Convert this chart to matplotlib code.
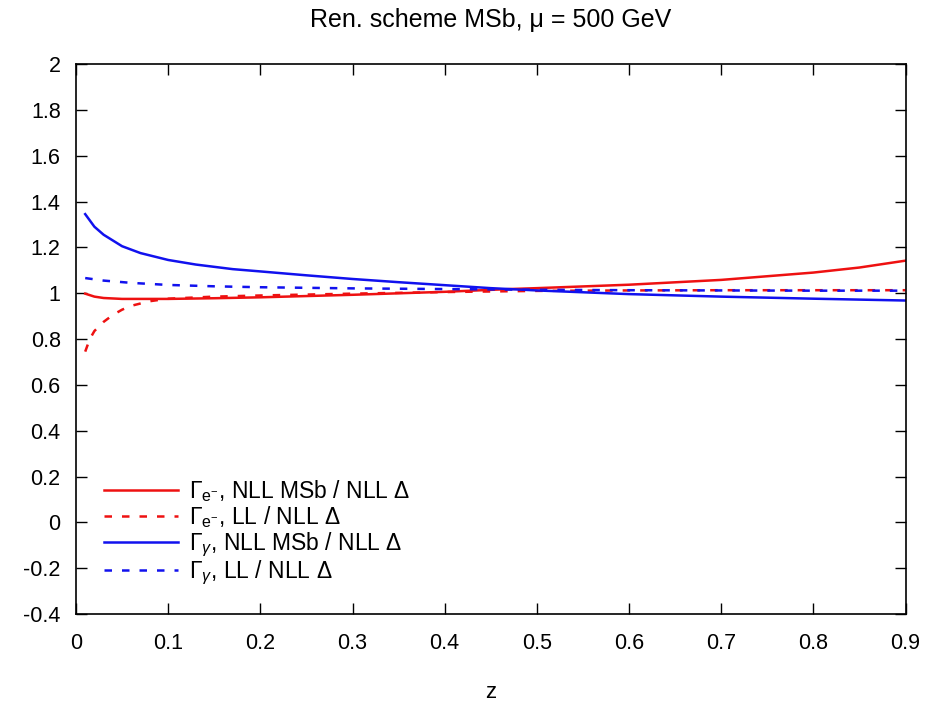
import numpy as np
import matplotlib.pyplot as plt

plt.rcParams['font.family'] = ['Liberation Sans', 'DejaVu Sans']
plt.rcParams['mathtext.fontset'] = 'custom'
plt.rcParams['mathtext.rm'] = 'Liberation Sans'
plt.rcParams['mathtext.it'] = 'Liberation Sans:italic'
plt.rcParams['axes.unicode_minus'] = False

# ratios vs z
z_e_nll = [0.01, 0.02, 0.03, 0.05, 0.1, 0.15, 0.2, 0.3, 0.4, 0.47, 0.5, 0.6, 0.7, 0.8, 0.85, 0.9]
e_nll = [0.998, 0.985, 0.979, 0.975, 0.975, 0.978, 0.982, 0.993, 1.006, 1.018, 1.022, 1.037, 1.058, 1.09, 1.112, 1.142]

z_e_ll = [0.01, 0.015, 0.02, 0.03, 0.04, 0.05, 0.06, 0.08, 0.1, 0.15, 0.2, 0.3, 0.4, 0.5, 0.6, 0.7, 0.8, 0.9]
e_ll = [0.745, 0.80, 0.835, 0.875, 0.905, 0.928, 0.945, 0.965, 0.976, 0.985, 0.99, 0.998, 1.005, 1.01, 1.012, 1.013, 1.013, 1.013]

z_g_nll = [0.01, 0.02, 0.03, 0.05, 0.07, 0.1, 0.13, 0.17, 0.2, 0.25, 0.3, 0.35, 0.4, 0.45, 0.5, 0.6, 0.7, 0.8, 0.9]
g_nll = [1.345, 1.29, 1.255, 1.205, 1.175, 1.145, 1.125, 1.105, 1.095, 1.078, 1.062, 1.048, 1.035, 1.022, 1.012, 0.996, 0.985, 0.976, 0.968]

z_g_ll = [0.01, 0.03, 0.06, 0.1, 0.15, 0.2, 0.3, 0.4, 0.5, 0.6, 0.7, 0.8, 0.9]
g_ll = [1.066, 1.055, 1.045, 1.036, 1.03, 1.026, 1.021, 1.018, 1.015, 1.013, 1.012, 1.011, 1.011]

labels = [r'$\Gamma_{\mathrm{e^{-}}}$, NLL MSb / NLL Δ',
          r'$\Gamma_{\mathrm{e^{-}}}$, LL / NLL Δ',
          r'$\Gamma_{\gamma}$, NLL MSb / NLL Δ',
          r'$\Gamma_{\gamma}$, LL / NLL Δ']

xticks = np.arange(0, 0.91, 0.1)
yticks = np.arange(-0.4, 2.01, 0.2)

fig = plt.figure(figsize=(9.3, 7.06), dpi=100)
ax = fig.add_axes([0.0817, 0.1303, 0.892, 0.779])

lw = 1.8
ax.plot(z_e_nll, e_nll, color='#ee1111', lw=lw, label=labels[0])
ax.plot(z_e_ll, e_ll, color='#ee1111', lw=lw, dashes=(3, 4), label=labels[1])
ax.plot(z_g_nll, g_nll, color='#1111ee', lw=lw, label=labels[2])
ax.plot(z_g_ll, g_ll, color='#1111ee', lw=lw, dashes=(3, 4), label=labels[3])

ax.set_xlim(0, 0.9)
ax.set_ylim(-0.4, 2)
ax.set_xticks(xticks)
ax.set_xticklabels(['%g' % round(t, 1) for t in xticks])
ax.set_yticks(yticks)
ax.set_yticklabels(['%g' % round(t, 1) for t in yticks])
ax.tick_params(direction='in', length=8, width=1, top=True, right=True, labelsize=15.5)
ax.tick_params(axis='x', pad=14)
ax.tick_params(axis='y', pad=11)
for s in ax.spines.values():
    s.set_linewidth(1.2)

ax.set_title('Ren. scheme MSb, μ = 500 GeV', fontsize=18, pad=27)
ax.set_xlabel('z', fontsize=16, labelpad=20)

ax.legend(loc='lower left', bbox_to_anchor=(0.015, 0.02), frameon=False,
          fontsize=16.5, handlelength=3.2, labelspacing=0.0, handletextpad=0.5,
          borderaxespad=0.3)

fig.savefig('out.png', dpi=100)
